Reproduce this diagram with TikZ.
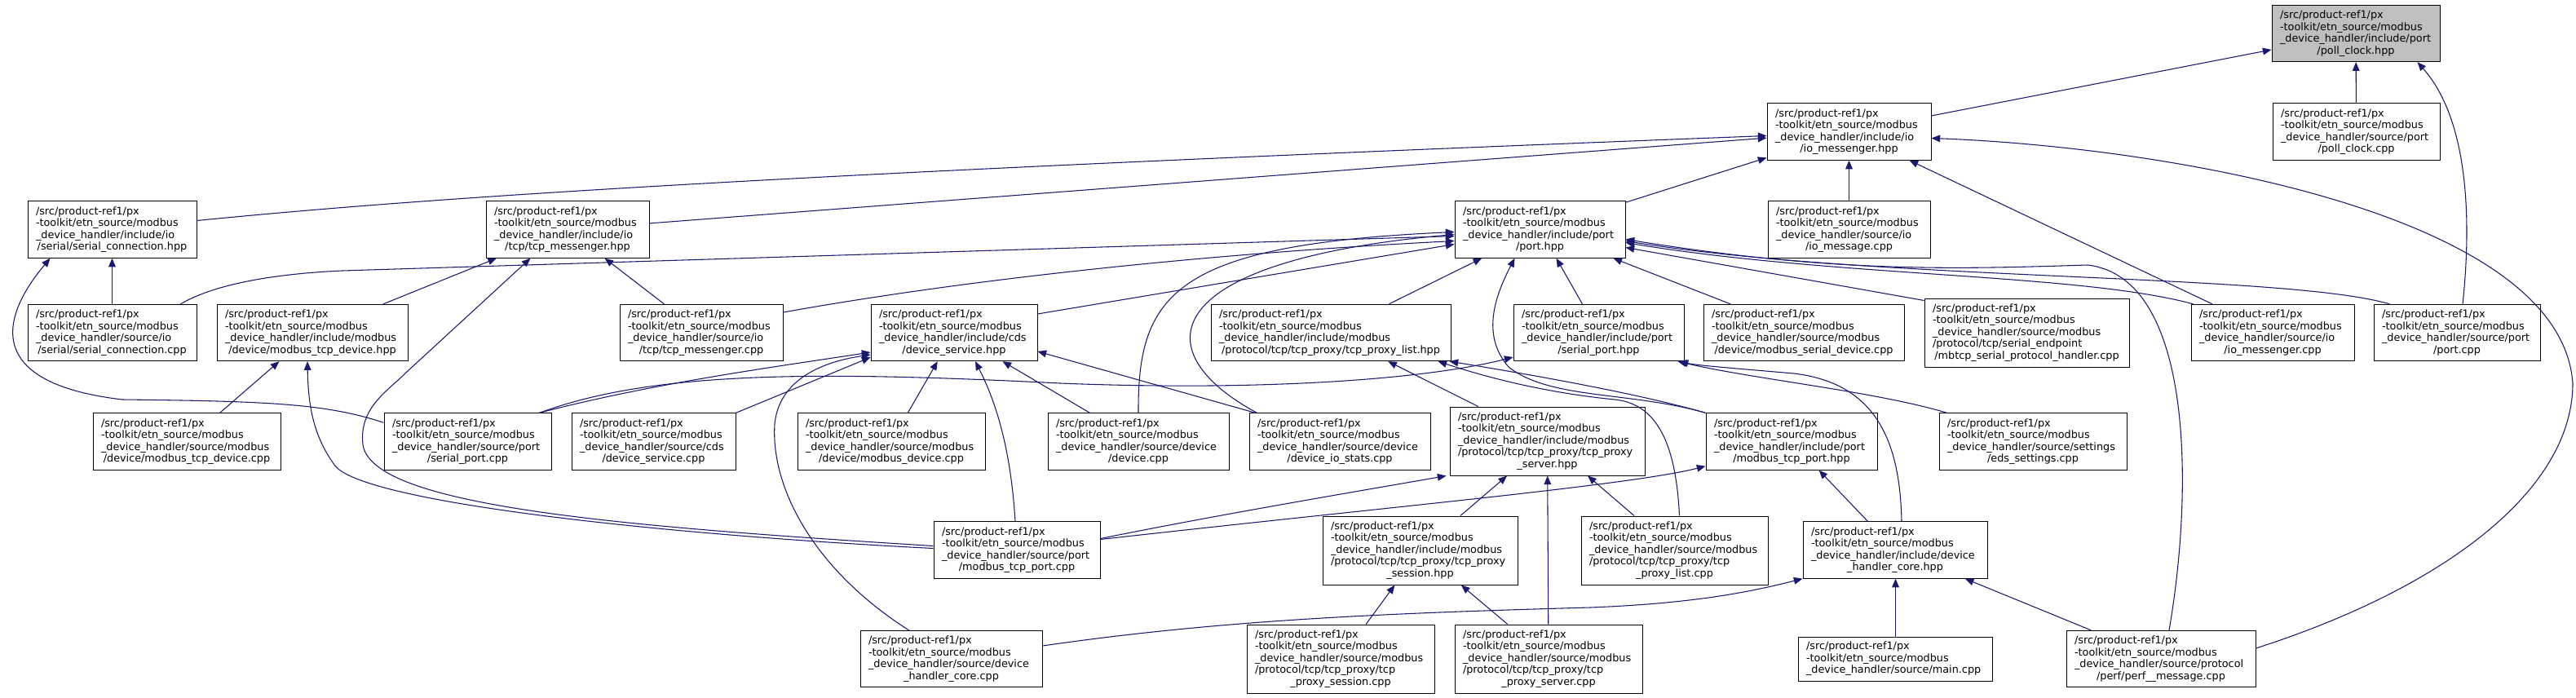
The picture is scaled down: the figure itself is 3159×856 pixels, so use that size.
\documentclass[tikz,border=0pt]{standalone}
\usepackage{fontspec}
\newfontfamily\dotfont{DejaVu Sans}
\usetikzlibrary{arrows.meta,calc}
\definecolor{edgeblue}{HTML}{191970}
\definecolor{focusgrey}{HTML}{BFBFBF}
\newcommand{\pxpath}{/src/product-ref1/px\\-toolkit/etn\_source/modbus\\}
\newcommand{\lastln}[1]{\makebox[\linewidth][c]{#1}}

\begin{document}
\begin{tikzpicture}
    [x=0.75pt, y=-0.75pt,
    filebox/.style 2 args={draw=black, fill=white, line width=0.75pt, align=left,
        font=\dotfont\fontsize{9.6}{10.9}\selectfont, inner xsep=7.5pt, inner ysep=0pt,
        text width=#1pt, minimum height=#2pt},
    incl/.style={draw=edgeblue, line width=0.8pt, -{Triangle[length=8pt,width=6.5pt]}}]
        \useasboundingbox (0,0) rectangle (3159,856);
        %% top
        \node[filebox={139.5}{52}, fill=focusgrey] (poll_clock_hpp) at (2889,41) {\pxpath\_device\_handler/include/port\\ \lastln{/poll\_clock.hpp}};
        \node[filebox={135.75}{52}] (io_messenger_hpp) at (2267.5,161.5) {\pxpath\_device\_handler/include/io\\ \lastln{/io\_messenger.hpp}};
        \node[filebox={138.75}{52}] (poll_clock_cpp) at (2889.5,161.5) {\pxpath\_device\_handler/source/port\\ \lastln{/poll\_clock.cpp}};
        %% row 2
        \node[filebox={140.25}{52}] (serial_connection_hpp) at (137.5,281.5) {\pxpath\_device\_handler/include/io\\ \lastln{/serial/serial\_connection.hpp}};
        \node[filebox={135}{52}] (tcp_messenger_hpp) at (696,281.5) {\pxpath\_device\_handler/include/io\\ \lastln{/tcp/tcp\_messenger.hpp}};
        \node[filebox={141.75}{52}] (port_hpp) at (1888.5,281.5) {\pxpath\_device\_handler/include/port\\ \lastln{/port.hpp}};
        \node[filebox={134.25}{52}] (io_message_cpp) at (2267.5,281.5) {\pxpath\_device\_handler/source/io\\ \lastln{/io\_message.cpp}};
        %% row 3
        \node[filebox={140.25}{52}] (serial_connection_cpp) at (137.5,408) {\pxpath\_device\_handler/source/io\\ \lastln{/serial/serial\_connection.cpp}};
        \node[filebox={160.5}{52}] (modbus_tcp_device_hpp) at (383,408) {\pxpath\_device\_handler/include/modbus\\ \lastln{/device/modbus\_tcp\_device.hpp}};
        \node[filebox={135}{52}] (tcp_messenger_cpp) at (860,408) {\pxpath\_device\_handler/source/io\\ \lastln{/tcp/tcp\_messenger.cpp}};
        \node[filebox={138}{52}] (device_service_hpp) at (1170,408) {\pxpath\_device\_handler/include/cds\\ \lastln{/device\_service.hpp}};
        \node[filebox={205.5}{52}] (tcp_proxy_list_hpp) at (1632,408) {\pxpath\_device\_handler/include/modbus\\ \lastln{/protocol/tcp/tcp\_proxy/tcp\_proxy\_list.hpp}};
        \node[filebox={141.75}{52}] (serial_port_hpp) at (1960.5,408) {\pxpath\_device\_handler/include/port\\ \lastln{/serial\_port.hpp}};
        \node[filebox={169.5}{52}] (modbus_serial_device_cpp) at (2212,408) {\pxpath\_device\_handler/source/modbus\\ \lastln{/device/modbus\_serial\_device.cpp}};
        \node[filebox={173.25}{63}] (mbtcp_handler_cpp) at (2485.5,408) {\pxpath\_device\_handler/source/modbus\\/protocol/tcp/serial\_endpoint\\ \lastln{/mbtcp\_serial\_protocol\_handler.cpp}};
        \node[filebox={135}{52}] (io_messenger_cpp) at (2787,408) {\pxpath\_device\_handler/source/io\\ \lastln{/io\_messenger.cpp}};
        \node[filebox={138}{52}] (port_cpp) at (3013,408) {\pxpath\_device\_handler/source/port\\ \lastln{/port.cpp}};
        %% row 4
        \node[filebox={157.5}{52}] (modbus_tcp_device_cpp) at (229,541.5) {\pxpath\_device\_handler/source/modbus\\ \lastln{/device/modbus\_tcp\_device.cpp}};
        \node[filebox={138.75}{52}] (serial_port_cpp) at (573.5,541.5) {\pxpath\_device\_handler/source/port\\ \lastln{/serial\_port.cpp}};
        \node[filebox={135.75}{52}] (device_service_cpp) at (801.5,541.5) {\pxpath\_device\_handler/source/cds\\ \lastln{/device\_service.cpp}};
        \node[filebox={157.5}{52}] (modbus_device_cpp) at (1093,541.5) {\pxpath\_device\_handler/source/modbus\\ \lastln{/device/modbus\_device.cpp}};
        \node[filebox={151.5}{52}] (device_cpp) at (1396,541.5) {\pxpath\_device\_handler/source/device\\ \lastln{/device.cpp}};
        \node[filebox={151.5}{52}] (device_io_stats_cpp) at (1643,541.5) {\pxpath\_device\_handler/source/device\\ \lastln{/device\_io\_stats.cpp}};
        \node[filebox={164.25}{63}] (tcp_proxy_server_hpp) at (1897.5,541) {\pxpath\_device\_handler/include/modbus\\/protocol/tcp/tcp\_proxy/tcp\_proxy\\ \lastln{\_server.hpp}};
        \node[filebox={142.5}{52}] (modbus_tcp_port_hpp) at (2197,541.5) {\pxpath\_device\_handler/include/port\\ \lastln{/modbus\_tcp\_port.hpp}};
        \node[filebox={157.5}{52}] (eds_settings_cpp) at (2493,541.5) {\pxpath\_device\_handler/source/settings\\ \lastln{/eds\_settings.cpp}};
        %% row 5
        \node[filebox={138}{52}] (modbus_tcp_port_cpp) at (1247,674.5) {\pxpath\_device\_handler/source/port\\ \lastln{/modbus\_tcp\_port.cpp}};
        \node[filebox={164.25}{63}] (tcp_proxy_session_hpp) at (1741.5,675) {\pxpath\_device\_handler/include/modbus\\/protocol/tcp/tcp\_proxy/tcp\_proxy\\ \lastln{\_session.hpp}};
        \node[filebox={156.75}{63}] (tcp_proxy_list_cpp) at (2053.5,675) {\pxpath\_device\_handler/source/modbus\\/protocol/tcp/tcp\_proxy/tcp\\ \lastln{\_proxy\_list.cpp}};
        \node[filebox={154.5}{52}] (device_handler_core_hpp) at (2324,674.5) {\pxpath\_device\_handler/include/device\\ \lastln{\_handler\_core.hpp}};
        %% bottom
        \node[filebox={152.25}{52}] (device_handler_core_cpp) at (1166.5,808) {\pxpath\_device\_handler/source/device\\ \lastln{\_handler\_core.cpp}};
        \node[filebox={157.5}{63}] (tcp_proxy_session_cpp) at (1644,808) {\pxpath\_device\_handler/source/modbus\\/protocol/tcp/tcp\_proxy/tcp\\ \lastln{\_proxy\_session.cpp}};
        \node[filebox={157.5}{63}] (tcp_proxy_server_cpp) at (1899,808) {\pxpath\_device\_handler/source/modbus\\/protocol/tcp/tcp\_proxy/tcp\\ \lastln{\_proxy\_server.cpp}};
        \node[filebox={163.5}{40.5}] (main_cpp) at (2324,808) {\pxpath\_device\_handler/source/main.cpp};
        \node[filebox={159}{52}] (perf_message_cpp) at (2650,808) {\pxpath\_device\_handler/source/protocol\\ \lastln{/perf/perf\_\_message.cpp}};

        %% poll_clock.hpp
        \draw[incl] (io_messenger_hpp) -- (poll_clock_hpp);
        \draw[incl] (poll_clock_cpp) -- (poll_clock_hpp);
        \draw[incl] ($(port_cpp.north)+(7,0)$) .. controls (3030,280) and (3030,150) .. ($(poll_clock_hpp.south east)+(-28,0)$);
        %% io_messenger.hpp
        \draw[incl] ($(serial_connection_hpp.east)+(0,-11)$) .. controls (500,245) and (900,215) .. ($(io_messenger_hpp.west)+(0,5)$);
        \draw[incl] (tcp_messenger_hpp) -- (io_messenger_hpp);
        \draw[incl] (port_hpp) -- (io_messenger_hpp);
        \draw[incl] (io_message_cpp) -- (io_messenger_hpp);
        \draw[incl] (io_messenger_cpp) -- (io_messenger_hpp);
        \draw[incl] ($(perf_message_cpp.east)+(0,-13)$) .. controls (3000,720) and (3155,600) .. (3155,470) .. controls (3140,260) and (2650,180) .. ($(io_messenger_hpp.east)+(0,8)$);
        %% serial_connection.hpp, tcp_messenger.hpp
        \draw[incl] (serial_connection_cpp) -- (serial_connection_hpp);
        \draw[incl] ($(serial_port_cpp.north west)+(0,12)$) .. controls (400,495) and (330,492) .. (150,490) .. controls (-20,470) and (0,390) .. ($(serial_connection_hpp.south west)+(28,0)$);
        \draw[incl] (modbus_tcp_device_hpp) -- (tcp_messenger_hpp);
        \draw[incl] (tcp_messenger_cpp) -- (tcp_messenger_hpp);
        \draw[incl] ($(modbus_tcp_port_cpp.west)+(0,-5)$) .. controls (750,645) and (455,620) .. (445,545) .. controls (440,500) and (475,480) .. (500,455) -- ($(tcp_messenger_hpp.south west)+(55,0)$);
        %% port.hpp
        \draw[incl] ($(serial_connection_cpp.north east)+(-20,0)$) .. controls (260,350) and (330,336) .. (420,332) -- ($(port_hpp.west)+(0,8)$);
        \draw[incl] ($(tcp_messenger_cpp.east)+(0,-25)$) .. controls (1200,340) and (1500,310) .. ($(port_hpp.west)+(0,14)$);
        \draw[incl] ($(device_service_hpp.east)+(0,-23)$) -- ($(port_hpp.west)+(0,18)$);
        \draw[incl] (device_cpp.north) .. controls (1395,360) and (1440,300) .. ($(port_hpp.west)+(0,3)$);
        \draw[incl] ($(device_io_stats_cpp.north west)+(10,0)$) .. controls (1400,430) and (1420,320) .. ($(port_hpp.west)+(0,6)$);
        \draw[incl] (tcp_proxy_list_hpp) -- (port_hpp);
        \draw[incl] (modbus_tcp_port_hpp.north west) .. controls (2000,480) and (1900,490) .. (1850,450) .. controls (1815,410) and (1835,360) .. ($(port_hpp.south)+(-31,0)$);
        \draw[incl] (serial_port_hpp) -- (port_hpp);
        \draw[incl] (modbus_serial_device_cpp) -- (port_hpp);
        \draw[incl] ($(mbtcp_handler_cpp.north west)+(0,3)$) -- ($(port_hpp.east)+(0,22)$);
        \draw[incl] ($(io_messenger_cpp.north west)+(3,0)$) .. controls (2550,335) and (2250,340) .. ($(port_hpp.east)+(0,16)$);
        \draw[incl] ($(port_cpp.north west)+(20,0)$) .. controls (2800,335) and (2300,345) .. ($(port_hpp.east)+(0,14)$);
        \draw[incl] ($(perf_message_cpp.north)+(10,0)$) .. controls (2690,600) and (2690,340) .. (2560,325) .. controls (2400,330) and (2250,335) .. ($(port_hpp.east)+(0,12)$);
        %% modbus_tcp_device.hpp
        \draw[incl] (modbus_tcp_device_cpp) -- (modbus_tcp_device_hpp);
        \draw[incl] ($(modbus_tcp_port_cpp.west)+(0,-2)$) .. controls (800,655) and (440,615) .. (410,570) .. controls (385,535) and (378,500) .. ($(modbus_tcp_device_hpp.south)+(-6,0)$);
        %% device_service.hpp
        \draw[incl] ($(serial_port_cpp.north east)+(-15,0)$) .. controls (800,470) and (950,450) .. ($(device_service_hpp.west)+(0,24)$);
        \draw[incl] (device_service_cpp.north east) -- ($(device_service_hpp.south west)+(0,-5)$);
        \draw[incl] ($(device_handler_core_cpp.north west)+(60,0)$) .. controls (1000,700) and (945,600) .. (950,520) .. controls (955,470) and (1000,445) .. ($(device_service_hpp.west)+(0,27)$);
        \draw[incl] (modbus_device_cpp) -- (device_service_hpp);
        \draw[incl] ($(modbus_tcp_port_cpp.north)+(-2,0)$) .. controls (1240,560) and (1225,500) .. ($(device_service_hpp.south)+(26,0)$);
        \draw[incl] (device_cpp) -- (device_service_hpp);
        \draw[incl] ($(device_io_stats_cpp.north west)+(8,0)$) -- ($(device_service_hpp.east)+(0,23)$);
        %% tcp_proxy_list.hpp
        \draw[incl] (tcp_proxy_server_hpp) -- (tcp_proxy_list_hpp);
        \draw[incl] (modbus_tcp_port_hpp.north west) .. controls (2000,480) and (1850,455) .. ($(tcp_proxy_list_hpp.south east)+(-2,0)$);
        \draw[incl] ($(tcp_proxy_list_cpp.north)+(6,0)$) .. controls (2055,540) and (2030,495) .. (1980,490) .. controls (1900,482) and (1830,465) .. ($(tcp_proxy_list_hpp.south east)+(-16,0)$);
        %% serial_port.hpp
        \draw[incl] ($(serial_port_cpp.north east)+(-15,0)$) .. controls (800,455) and (1000,455) .. (1300,470) .. controls (1550,480) and (1750,465) .. ($(serial_port_hpp.west)+(0,30)$);
        \draw[incl] ($(device_handler_core_hpp.north)+(8,0)$) .. controls (2330,540) and (2300,470) .. (2200,458) .. controls (2130,452) and (2080,448) .. ($(serial_port_hpp.south east)+(-6,0)$);
        \draw[incl] ($(eds_settings_cpp.north west)+(10,0)$) .. controls (2300,480) and (2150,465) .. ($(serial_port_hpp.south east)+(-8,0)$);
        %% tcp_proxy_server.hpp
        \draw[incl] ($(modbus_tcp_port_cpp.east)+(0,-14)$) .. controls (1500,630) and (1680,600) .. ($(tcp_proxy_server_hpp.south west)+(-4,0)$);
        \draw[incl] (tcp_proxy_session_hpp) -- (tcp_proxy_server_hpp);
        \draw[incl] (tcp_proxy_server_cpp) -- (tcp_proxy_server_hpp);
        \draw[incl] (tcp_proxy_list_cpp) -- (tcp_proxy_server_hpp);
        %% modbus_tcp_port.hpp
        \draw[incl] ($(modbus_tcp_port_cpp.east)+(0,-13)$) .. controls (1700,622) and (2000,595) .. ($(modbus_tcp_port_hpp.south west)+(0,-5)$);
        \draw[incl] (device_handler_core_hpp) -- (modbus_tcp_port_hpp);
        %% tcp_proxy_session.hpp
        \draw[incl] (tcp_proxy_session_cpp) -- (tcp_proxy_session_hpp);
        \draw[incl] (tcp_proxy_server_cpp) -- (tcp_proxy_session_hpp);
        %% device_handler_core.hpp
        \draw[incl] ($(device_handler_core_cpp.east)+(0,-16)$) .. controls (1500,760) and (1700,752) .. (1950,745) .. controls (2080,740) and (2150,725) .. (device_handler_core_hpp.south west);
        \draw[incl] ($(main_cpp.north)+(0.5,0)$) -- ($(device_handler_core_hpp.south)+(0.5,0)$);
        \draw[incl] (perf_message_cpp) -- (device_handler_core_hpp);
    \end{tikzpicture}
\end{document}
